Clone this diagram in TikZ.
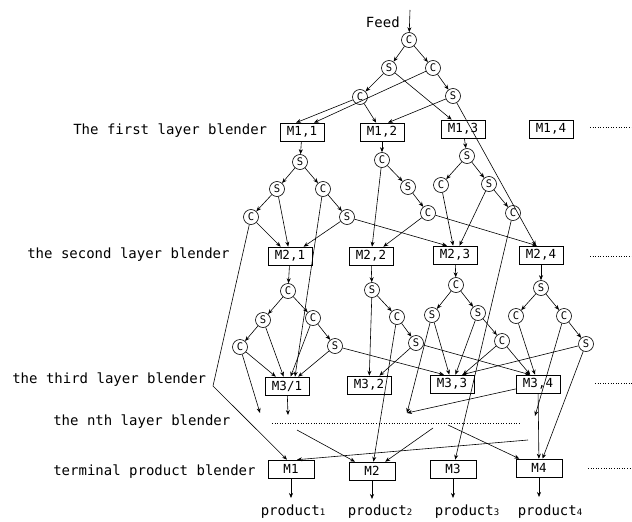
\documentclass[tikz,border=0pt]{standalone}
\usepackage{fontspec}
\setmonofont{DejaVu Sans Mono}
\usetikzlibrary{arrows.meta}
\begin{document}
\begin{tikzpicture}[x=1pt,y=-1pt,
  lbl/.style={anchor=west,font=\ttfamily\fontsize{14}{14}\selectfont,inner sep=0},
  blk/.style={draw,minimum width=44pt,minimum height=18pt,inner sep=0,font=\ttfamily\fontsize{12.5}{12.5}\selectfont},
  cn/.style={draw,circle,minimum size=15pt,inner sep=0,font=\ttfamily\fontsize{10.5}{10.5}\selectfont},
  ar/.style={-{Stealth[length=5pt,width=4pt]}},
  dots/.style={dotted,line width=0.7pt},
  prod/.style={font=\ttfamily\fontsize{14}{14}\selectfont,inner sep=0},
  every path/.style={line width=0.6pt}]
\useasboundingbox (0,0) rectangle (632,522);

% labels
\node[lbl,anchor=east] (feed) at (400,22) {Feed};
\node[lbl] (l1) at (73,131) {The first layer blender};
\node[lbl] (l2) at (27,255) {the second layer blender};
\node[lbl] (l3) at (12,380) {the third layer blender};
\node[lbl] (ln) at (53,422) {the nth layer blender};
\node[lbl] (lt) at (53,472) {terminal product blender};

% top tree
\coordinate (fs) at (410,10);
\node[cn] (c0) at (409,40) {C};
\node[cn] (s1) at (389,68) {S};
\node[cn] (c1) at (433,68) {C};
\node[cn] (c2) at (360,97) {C};
\node[cn] (s3) at (453,96) {S};

% first layer
\node[blk] (M11) at (302,132) {M1,1};
\node[blk] (M12) at (382,132) {M1,2};
\node[blk] (M13) at (463,129) {M1,3};
\node[blk] (M14) at (551,129) {M1,4};
\draw[dots] (590,127) -- (632,127);

% trees under first layer
\node[cn] (a1) at (300,162) {S};
\node[cn] (a2) at (277,189) {S};
\node[cn] (a3) at (323,189) {C};
\node[cn] (a4) at (251,217) {C};
\node[cn] (a5) at (347,217) {S};
\node[cn] (b1) at (382,160) {C};
\node[cn] (b2) at (408,187) {S};
\node[cn] (b3) at (428,213) {C};
\node[cn] (d1) at (467,156) {S};
\node[cn] (d2) at (441,185) {C};
\node[cn] (d3) at (489,184) {S};
\node[cn] (d4) at (513,213) {C};

% second layer
\node[blk] (M21) at (290,256) {M2,1};
\node[blk] (M22) at (371,256) {M2,2};
\node[blk] (M23) at (455,255) {M2,3};
\node[blk] (M24) at (541,255) {M2,4};
\draw[dots] (590,256) -- (632,256);

% trees under second layer
\node[cn] (e1) at (288,291) {C};
\node[cn] (e2) at (263,320) {S};
\node[cn] (e3) at (313,318) {C};
\node[cn] (e4) at (240,347) {C};
\node[cn] (e5) at (335,346) {S};
\node[cn] (f1) at (372,290) {S};
\node[cn] (f2) at (397,317) {C};
\node[cn] (f3) at (416,343) {S};
\node[cn] (g1) at (456,285) {C};
\node[cn] (g2) at (432,315) {S};
\node[cn] (g3) at (478,313) {S};
\node[cn] (g4) at (502,341) {C};
\node[cn] (h1) at (541,288) {S};
\node[cn] (h2) at (516,316) {C};
\node[cn] (h3) at (564,316) {C};
\node[cn] (h4) at (586,344) {S};

% third layer
\node[blk] (M31) at (287,386) {M3/1};
\node[blk] (M32) at (369,385) {M3,2};
\node[blk] (M33) at (452,384) {M3,3};
\node[blk] (M34) at (538,384) {M3,4};
\draw[dots] (595,383) -- (632,383);

% nth layer
\draw[dots] (272,423) -- (520,423);
\coordinate (t1) at (260,413);
\coordinate (t2) at (288,415);
\coordinate (t3) at (407,413);
\coordinate (t4) at (535,416);
\coordinate (n1) at (297,430);
\coordinate (n2) at (433,428);
\coordinate (n3) at (448,425);
\coordinate (n4) at (528,440);
\coordinate (bend) at (213,386);

% terminal
\node[blk,minimum width=46pt] (M1) at (291,469) {M1};
\node[blk,minimum width=46pt] (M2) at (372,471) {M2};
\node[blk,minimum width=46pt] (M3) at (453,469) {M3};
\node[blk,minimum width=46pt] (M4) at (539,468) {M4};
\draw[dots] (588,468) -- (632,468);

\coordinate (p1) at (291,498);
\coordinate (p2) at (372,499);
\coordinate (p3) at (453,498);
\coordinate (p4) at (539,497);
\node[prod] (q1) at (293,512) {product{\fontsize{9}{9}\selectfont 1}};
\node[prod] (q2) at (380,512) {product{\fontsize{9}{9}\selectfont 2}};
\node[prod] (q3) at (467,512) {product{\fontsize{9}{9}\selectfont 3}};
\node[prod] (q4) at (550,512) {product{\fontsize{9}{9}\selectfont 4}};

% edges top tree
\draw[ar] (fs) -- (c0);
\draw[ar] (c0) -- (s1);
\draw[ar] (c0) -- (c1);
\draw[ar] (s1) -- (c2);
\draw[ar] (s1) -- (M13);
\draw[ar] (c1) -- (s3);
\draw[ar] (c1) -- ([xshift=12pt]M11.north);
\draw[ar] (c2) -- ([xshift=-6pt]M11.north);
\draw[ar] (c2) -- (M12);
\draw[ar] (s3) -- ([xshift=6pt]M12.north);
\draw[ar] (s3) -- (M24);

% tree under M1,1
\draw[ar] (M11) -- (a1);
\draw[ar] (a1) -- (a2);
\draw[ar] (a1) -- (a3);
\draw[ar] (a2) -- (a4);
\draw[ar] (a2) -- (M21);
\draw[ar] (a3) -- (a5);
\draw[ar] (a3) -- ([xshift=8pt]M31.north);
\draw[ar] (a4) -- (M21);
\draw[ar] (a4) -- (bend) -- ([xshift=-4pt]M1.north);
\draw[ar] (a5) -- (M21);
\draw[ar] (a5) -- ([xshift=-8pt]M23.north);

% tree under M1,2
\draw[ar] (M12) -- (b1);
\draw[ar] (b1) -- (b2);
\draw[ar] (b1) -- (M22);
\draw[ar] (b2) -- (b3);
\draw[ar] (b3) -- (M22);
\draw[ar] (b3) -- ([xshift=-4pt]M24.north);

% tree under M1,3
\draw[ar] (M13) -- (d1);
\draw[ar] (d1) -- (d2);
\draw[ar] (d1) -- (d3);
\draw[ar] (d2) -- (M23);
\draw[ar] (d3) -- (M23);
\draw[ar] (d3) -- (d4);
\draw[ar] (d4) -- (M3);

% tree under M2,1
\draw[ar] (M21) -- (e1);
\draw[ar] (e1) -- (e2);
\draw[ar] (e1) -- (e3);
\draw[ar] (e2) -- (e4);
\draw[ar] (e2) -- (M31);
\draw[ar] (e3) -- (e5);
\draw[ar] (e3) -- (M31);
\draw[ar] (e4) -- (M31);
\draw[ar] (e4) -- (t1);
\draw[ar] (e5) -- (M31);
\draw[ar] (e5) -- ([xshift=-8pt]M33.north);

% tree under M2,2
\draw[ar] (M22) -- (f1);
\draw[ar] (f1) -- (f2);
\draw[ar] (f1) -- (M32);
\draw[ar] (f2) -- (f3);
\draw[ar] (f2) -- (M2);
\draw[ar] (f3) -- (M32);
\draw[ar] (f3) -- ([xshift=-8pt]M34.north);

% tree under M2,3
\draw[ar] (M23) -- (g1);
\draw[ar] (g1) -- (g2);
\draw[ar] (g1) -- (g3);
\draw[ar] (g2) -- (M33);
\draw[ar] (g2) -- (t3);
\draw[ar] (g3) -- (M33);
\draw[ar] (g3) -- (g4);
\draw[ar] (g4) -- (M33);
\draw[ar] (g4) -- (M34);

% tree under M2,4
\draw[ar] (M24) -- (h1);
\draw[ar] (h1) -- (h2);
\draw[ar] (h1) -- (h3);
\draw[ar] (h2) -- (M34);
\draw[ar] (h3) -- (h4);
\draw[ar] (h3) -- (t4);
\draw[ar] (h4) -- ([xshift=10pt]M33.north);
\draw[ar] (h4) -- (M4);

% third layer outputs
\draw[ar] (M31) -- (t2);
\draw[ar] (M34) -- (t3);
\draw[ar] (M34) -- (M4);

% nth layer outputs
\draw[ar] (n1) -- (M2);
\draw[ar] (n2) -- (M2);
\draw[ar] (n3) -- (M4);
\draw[ar] (n4) -- ([xshift=6pt]M1.north);

% products
\draw[ar] (M1) -- (p1);
\draw[ar] (M2) -- (p2);
\draw[ar] (M3) -- (p3);
\draw[ar] (M4) -- (p4);
\end{tikzpicture}
\end{document}
